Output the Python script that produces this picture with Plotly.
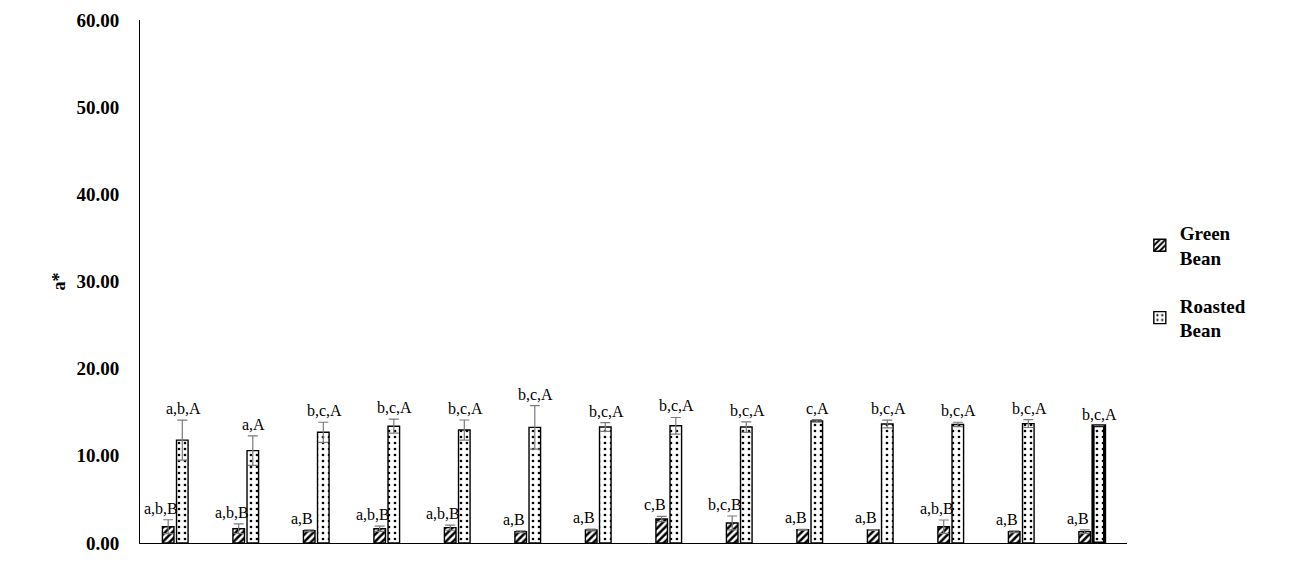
import plotly.graph_objects as go

categories = [f"S{i}" for i in range(1, 15)]
green_vals = [1.87, 1.64, 1.41, 1.64, 1.76, 1.30, 1.50, 2.75, 2.30, 1.53, 1.50, 1.87, 1.30, 1.30]
green_err = [0.80, 0.55, 0.10, 0.30, 0.30, 0.10, 0.10, 0.30, 0.80, 0.05, 0.05, 0.77, 0.10, 0.20]
roasted_vals = [11.8, 10.6, 12.7, 13.4, 12.96, 13.27, 13.3, 13.45, 13.3, 14.0, 13.65, 13.6, 13.7, 13.45]
roasted_err = [2.3, 1.7, 1.15, 0.8, 1.15, 2.5, 0.5, 0.95, 0.6, 0.15, 0.45, 0.25, 0.45, 0.0]
green_labels = ["a,b,B", "a,b,B", "a,B", "a,b,B", "a,b,B", "a,B", "a,B", "c,B", "b,c,B", "a,B", "a,B", "a,b,B", "a,B", "a,B"]
roasted_labels = ["a,b,A", "a,A", "b,c,A", "b,c,A", "b,c,A", "b,c,A", "b,c,A", "b,c,A", "b,c,A", "c,A", "b,c,A", "b,c,A", "b,c,A", "b,c,A"]

serif = "Liberation Serif"
fig = go.Figure()
fig.add_trace(go.Bar(
    x=categories, y=green_vals, name="Green<br>Bean", legendgroup="g",
    marker=dict(color="white", line=dict(color="black", width=1.4),
                pattern=dict(shape="/", fgcolor="black", bgcolor="white", size=5, solidity=0.5, fillmode="replace")),
    error_y=dict(type="data", array=green_err, visible=True, color="#7a7a7a", thickness=1.2, width=5),
))
fig.add_trace(go.Bar(
    x=categories, y=roasted_vals, name="Roasted<br>Bean", legendgroup="r",
    marker=dict(color="white", line=dict(color="black", width=[1.4] * 13 + [3.2]),
                pattern=dict(shape=".", fgcolor="black", bgcolor="white", size=6, solidity=0.16, fillmode="replace")),
    error_y=dict(type="data", array=roasted_err, visible=True, color="#7a7a7a", thickness=1.2, width=5),
))

for c, v, e, t in zip(categories, green_vals, green_err, green_labels):
    fig.add_annotation(x=c, y=v + e, text=t, xref="x", yref="y", showarrow=False,
                       yanchor="bottom", xshift=-14, yshift=1,
                       font=dict(family=serif, size=16, color="black"))
for c, v, e, t in zip(categories, roasted_vals, roasted_err, roasted_labels):
    fig.add_annotation(x=c, y=v + e, text=t, xref="x", yref="y", showarrow=False,
                       yanchor="bottom", xshift=8, yshift=1,
                       font=dict(family=serif, size=16, color="black"))

# page body has an 8px margin; compensate so the plot area sits where the reference has it
fig.update_layout(
    width=1300, height=581,
    margin=dict(l=132, r=181, t=12, b=46, autoexpand=False),
    paper_bgcolor="white", plot_bgcolor="white",
    barmode="group", bargap=0.6, bargroupgap=0.18,
    showlegend=True,
    legend=dict(x=1.013, y=0.5, xanchor="left", yanchor="middle",
                font=dict(family=serif, size=19, color="black", weight="bold"),
                tracegroupgap=20, itemwidth=30),
    font=dict(family=serif, color="black"),
)
fig.update_xaxes(showticklabels=False, showline=True, linecolor="black", linewidth=1,
                 ticks="", showgrid=False)
fig.update_yaxes(range=[0, 60], dtick=10, tickformat=".2f", showline=True, linecolor="black",
                 linewidth=1, showgrid=False, zeroline=False, ticks="",
                 ticklabelstandoff=16, automargin=False,
                 tickfont=dict(family=serif, size=19, color="black", weight="bold"),
                 title=dict(text="a*", font=dict(family=serif, size=18, color="black", weight="bold"), standoff=6))

fig.write_html("out.html")
